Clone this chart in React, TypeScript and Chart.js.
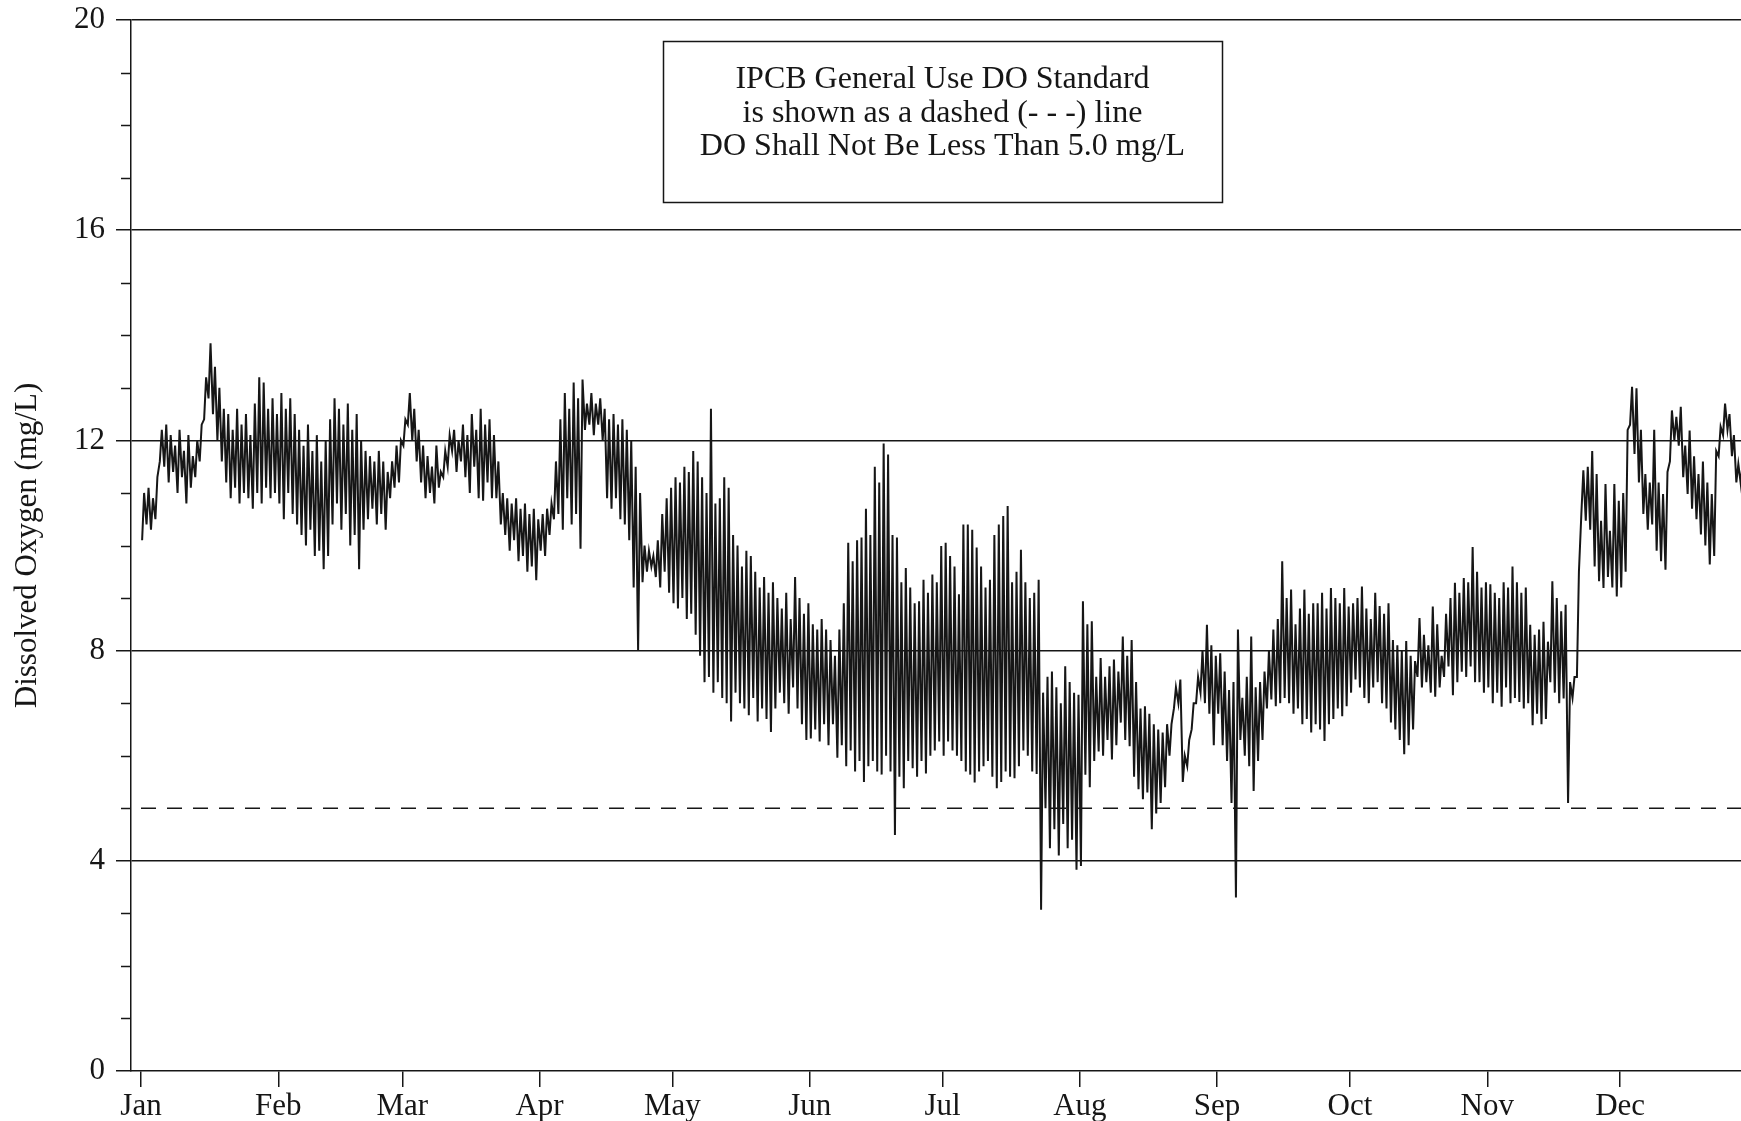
import React, { useEffect, useRef } from 'react';
import { Chart, registerables } from 'chart.js';

Chart.register(...registerables);

// ---------- axis / label data ----------
const MONTH_LABELS = ['Jan', 'Feb', 'Mar', 'Apr', 'May', 'Jun', 'Jul', 'Aug', 'Sep', 'Oct', 'Nov', 'Dec'];
const MONTH_START_DAYS = [0, 31, 59, 90, 120, 151, 181, 212, 243, 273, 304, 334];
const Y_MAJOR_STEP = 4;
const Y_MIN = 0;
const Y_MAX = 20;
const Y_TITLE = 'Dissolved Oxygen (mg/L)';
const DO_STANDARD = 5.0;
const NOTE_LINES = [
  'IPCB General Use DO Standard',
  'is shown as a dashed (- - -) line',
  'DO Shall Not Be Less Than 5.0 mg/L',
];

// ---------- daily dissolved oxygen (mg/L): daily low and daily high ----------
const janLow = [10.1, 10.4, 10.3, 10.5, 11.6, 11.5, 11.2, 11.4, 11.0, 11.3, 10.8, 11.1, 11.3, 11.6, 12.4, 12.8, 12.5, 12.0, 11.6, 11.2, 10.9, 11.1, 10.8, 11.0, 10.9, 10.7, 11.0, 10.8, 11.1, 10.9, 11.0];
const janHigh = [11.0, 11.1, 10.9, 11.3, 12.2, 12.3, 12.1, 11.9, 12.2, 11.8, 12.1, 11.7, 12.0, 12.3, 13.2, 13.85, 13.4, 13.0, 12.6, 12.5, 12.2, 12.6, 12.3, 12.5, 12.1, 12.7, 13.2, 13.1, 12.6, 12.8, 12.5];
const febLow = [10.8, 10.5, 11.0, 10.6, 10.4, 10.2, 10.0, 10.3, 9.8, 9.9, 9.55, 9.8, 10.4, 10.8, 10.3, 10.6, 10.0, 10.2, 9.55, 10.3, 10.5, 10.7, 10.4, 10.6, 10.3, 10.9, 11.1, 11.2];
const febHigh = [12.9, 12.6, 12.8, 12.5, 12.2, 11.9, 12.3, 11.8, 12.1, 11.6, 12.0, 12.4, 12.8, 12.6, 12.3, 12.7, 12.2, 12.5, 12.0, 11.8, 11.7, 11.6, 11.8, 11.6, 11.4, 11.6, 11.9, 12.0];
const marLow = [11.9, 12.3, 12.0, 11.6, 11.2, 10.9, 11.0, 10.8, 11.1, 11.3, 11.5, 11.8, 11.4, 11.6, 11.3, 11.0, 11.5, 10.9, 10.85, 11.2, 10.9, 10.9, 10.4, 10.2, 9.9, 10.1, 9.7, 9.8, 9.5, 9.6, 9.34];
const marHigh = [12.4, 12.9, 12.6, 12.2, 11.9, 11.7, 11.5, 11.9, 11.4, 11.8, 12.1, 12.2, 12.0, 12.3, 12.1, 12.5, 12.2, 12.6, 12.3, 12.4, 12.1, 11.6, 11.0, 10.9, 10.8, 10.9, 10.7, 10.8, 10.6, 10.7, 10.5];
const aprLow = [9.9, 9.8, 10.2, 10.5, 10.6, 10.3, 10.9, 10.4, 10.6, 9.94, 12.2, 12.3, 12.1, 12.3, 12.0, 10.9, 10.7, 10.9, 10.5, 10.4, 10.1, 9.2, 8.0, 9.3, 9.5, 9.6, 9.4, 9.2, 9.5, 9.1];
const aprHigh = [10.6, 10.7, 10.8, 11.6, 12.4, 12.9, 12.6, 13.1, 12.8, 13.16, 12.7, 12.9, 12.7, 12.8, 12.6, 12.4, 12.5, 12.3, 12.4, 12.2, 12.0, 11.5, 11.0, 10.0, 9.9, 9.8, 10.1, 10.6, 10.9, 11.1];
const mayLow = [8.9, 8.8, 9.0, 8.6, 8.7, 8.3, 7.9, 7.4, 7.5, 7.2, 7.4, 7.1, 7.0, 6.65, 7.2, 7.0, 6.9, 6.77, 7.1, 6.65, 6.9, 6.7, 6.45, 6.9, 7.2, 7.0, 6.8, 7.3, 6.9, 6.6, 6.3];
const mayHigh = [11.3, 11.2, 11.5, 11.4, 11.8, 11.6, 11.3, 11.0, 12.6, 10.8, 10.9, 11.3, 11.1, 10.2, 10.0, 9.6, 9.9, 9.8, 9.5, 9.2, 9.4, 9.1, 9.3, 9.0, 8.8, 9.1, 8.6, 9.4, 9.0, 8.7, 8.9];
const junLow = [6.33, 6.5, 6.27, 6.6, 6.2, 6.6, 5.96, 6.2, 5.8, 6.1, 5.7, 5.9, 5.5, 5.8, 5.9, 5.7, 5.64, 6.0, 5.7, 4.49, 5.6, 5.38, 5.9, 5.76, 5.6, 5.9, 5.66, 6.0, 6.1, 6.27];
const junHigh = [8.5, 8.4, 8.6, 8.4, 8.2, 7.9, 8.4, 8.9, 10.05, 9.7, 10.1, 10.15, 10.7, 10.2, 11.5, 11.2, 11.94, 11.73, 10.2, 10.15, 9.3, 9.57, 9.2, 8.9, 8.94, 9.35, 9.1, 9.45, 9.3, 9.99];
const julLow = [6.0, 6.27, 6.1, 6.0, 5.9, 5.7, 5.64, 5.49, 5.7, 5.8, 5.9, 5.6, 5.38, 5.5, 5.7, 5.6, 5.57, 5.8, 6.1, 6.0, 5.7, 5.65, 3.07, 5.0, 4.24, 4.6, 4.1, 4.7, 4.24, 4.4, 3.83];
const julHigh = [10.05, 9.8, 9.6, 9.07, 10.4, 10.4, 10.3, 9.96, 9.6, 9.2, 9.35, 10.2, 10.4, 10.56, 10.75, 9.3, 9.5, 9.92, 9.3, 9.0, 9.1, 9.35, 7.2, 7.5, 7.6, 7.3, 7.0, 7.7, 7.4, 7.2, 7.16];
const augLow = [3.9, 5.64, 5.4, 5.9, 6.08, 6.0, 6.3, 5.93, 6.2, 6.63, 6.3, 6.18, 5.6, 5.36, 5.17, 5.3, 4.6, 4.9, 5.1, 5.4, 6.0, 6.9, 7.0, 5.5, 5.8, 6.5, 7.0, 7.2, 7.0, 6.8, 6.2];
const augHigh = [8.94, 8.5, 8.56, 7.5, 7.86, 7.5, 7.7, 7.83, 7.6, 8.27, 7.9, 8.2, 7.4, 6.9, 6.94, 6.8, 6.6, 6.5, 6.44, 6.6, 6.6, 7.3, 7.45, 6.0, 6.3, 7.0, 7.5, 8.0, 8.49, 8.1, 7.9];
const sepLow = [6.8, 6.2, 5.9, 5.1, 3.3, 6.3, 6.0, 5.8, 5.33, 5.9, 6.3, 6.9, 7.07, 6.94, 7.0, 7.1, 7.0, 6.8, 6.9, 6.6, 6.7, 6.44, 6.6, 6.5, 6.28, 6.6, 6.7, 6.9, 6.75, 6.94];
const sepHigh = [7.95, 7.6, 7.25, 7.4, 8.4, 7.1, 7.5, 8.27, 7.3, 7.4, 7.6, 8.0, 8.4, 8.6, 9.7, 9.0, 9.16, 8.5, 8.8, 9.16, 8.7, 8.9, 8.9, 9.1, 8.8, 9.19, 9.0, 8.9, 9.19, 8.84];
const octLow = [7.2, 7.45, 7.3, 7.1, 7.0, 7.3, 7.4, 7.0, 6.9, 6.63, 6.5, 6.3, 6.03, 6.2, 6.5, 7.5, 7.3, 7.4, 7.2, 7.12, 7.3, 7.5, 7.7, 7.15, 7.4, 7.6, 7.5, 7.7, 7.4, 7.4, 7.2];
const octHigh = [8.9, 9.0, 9.22, 8.8, 8.6, 9.1, 8.85, 8.7, 8.9, 8.2, 8.1, 8.0, 8.18, 7.9, 7.8, 8.62, 8.3, 8.1, 8.84, 8.5, 7.9, 8.7, 9.0, 9.29, 9.1, 9.38, 9.3, 9.97, 9.5, 9.2, 9.3];
const novLow = [7.3, 7.0, 7.2, 6.93, 7.3, 7.0, 7.1, 7.02, 6.9, 7.0, 6.58, 6.8, 6.6, 6.7, 7.4, 7.2, 7.0, 7.09, 5.1, 7.1, 7.5, 10.6, 10.47, 10.3, 9.6, 9.32, 9.19, 9.4, 9.2, 9.03];
const novHigh = [9.26, 9.1, 9.0, 9.3, 9.2, 9.6, 9.3, 9.1, 9.2, 8.49, 8.3, 8.4, 8.55, 8.17, 9.32, 9.0, 8.75, 8.87, 7.4, 7.5, 9.5, 11.43, 11.5, 11.8, 11.36, 10.47, 11.17, 10.28, 11.17, 10.85];
const decLow = [9.2, 9.5, 12.3, 11.74, 11.2, 10.6, 10.3, 10.4, 9.9, 9.7, 9.54, 11.6, 12.0, 11.9, 11.3, 10.98, 10.7, 10.5, 10.21, 10.0, 9.64, 9.8, 11.7, 12.1, 12.2, 11.7, 11.2, 11.17, 11.0, 11.1, 11.0];
const decHigh = [11.0, 12.2, 13.02, 12.99, 12.2, 11.36, 11.2, 12.2, 11.2, 10.98, 11.4, 12.57, 12.45, 12.64, 11.9, 12.19, 11.7, 11.36, 11.6, 11.2, 10.98, 11.8, 12.26, 12.7, 12.5, 12.1, 11.55, 11.6, 11.4, 11.5, 11.3];

const MONTH_LOWS = [janLow, febLow, marLow, aprLow, mayLow, junLow, julLow, augLow, sepLow, octLow, novLow, decLow];
const MONTH_HIGHS = [janHigh, febHigh, marHigh, aprHigh, mayHigh, junHigh, julHigh, augHigh, sepHigh, octHigh, novHigh, decHigh];

const FONT = '"Liberation Serif", "Times New Roman", serif';
const INK = '#161616';

function buildSeries() {
  const pts: { x: number; y: number }[] = [];
  MONTH_LOWS.forEach((lows, m) => {
    const highs = MONTH_HIGHS[m];
    lows.forEach((lo, i) => {
      const day = MONTH_START_DAYS[m] + i;
      pts.push({ x: day + 0.25, y: lo });
      pts.push({ x: day + 0.7, y: highs[i] });
    });
  });
  return pts;
}

const decorPlugin = {
  id: 'decor',
  afterDraw(chart: any) {
    const { ctx, chartArea, scales } = chart;
    const ys = scales.y;
    ctx.save();
    ctx.strokeStyle = INK;
    ctx.lineWidth = 1.5;
    for (let v = Y_MIN; v <= Y_MAX; v++) {
      if (v % Y_MAJOR_STEP === 0) continue;
      const py = Math.round(ys.getPixelForValue(v)) + 0.5;
      ctx.beginPath();
      ctx.moveTo(chartArea.left - 10, py);
      ctx.lineTo(chartArea.left, py);
      ctx.stroke();
    }
    // note box
    const bx = 663, by = 41, bw = 559, bh = 161;
    ctx.strokeRect(bx + 0.5, by + 0.5, bw, bh);
    ctx.fillStyle = INK;
    ctx.font = `32px ${FONT}`;
    ctx.textAlign = 'center';
    ctx.textBaseline = 'middle';
    NOTE_LINES.forEach((t, i) => ctx.fillText(t, bx + bw / 2, 80 + i * 33.3));
    ctx.restore();
  },
};

export default function App() {
  const ref = useRef<HTMLCanvasElement | null>(null);
  useEffect(() => {
    if (!ref.current) return;
    const series = buildSeries();
    const chart = new Chart(ref.current, {
      type: 'line',
      data: {
        datasets: [
          {
            label: 'DO',
            data: series,
            borderColor: INK,
            borderWidth: 2,
            pointRadius: 0,
            tension: 0,
          },
          {
            label: 'Standard',
            data: [
              { x: MONTH_START_DAYS[0], y: DO_STANDARD },
              { x: 366, y: DO_STANDARD },
            ],
            borderColor: INK,
            borderWidth: 1.5,
            borderDash: [15, 11],
            pointRadius: 0,
          },
        ],
      },
      options: {
        animation: false,
        responsive: false,
        devicePixelRatio: 1,
        layout: { padding: { left: 0, top: 20, right: 0, bottom: 0 } },
        plugins: { legend: { display: false }, tooltip: { enabled: false } },
        scales: {
          x: {
            type: 'linear',
            min: -2.26,
            max: 361.3,
            afterBuildTicks: (scale: any) => {
              scale.ticks = MONTH_START_DAYS.map((v) => ({ value: v }));
            },
            afterFit: (scale: any) => {
              scale.height = 50;
              scale.paddingLeft = 0;
              scale.paddingRight = 0;
            },
            ticks: {
              autoSkip: false,
              maxRotation: 0,
              padding: 1,
              color: INK,
              font: { family: FONT, size: 31 },
              callback: (value: any) => {
                const idx = MONTH_START_DAYS.indexOf(Number(value));
                return idx >= 0 ? MONTH_LABELS[idx] : '';
              },
            },
            grid: {
              drawOnChartArea: false,
              tickLength: 16,
              tickColor: INK,
              lineWidth: 1.5,
            },
            border: { color: INK, width: 1.5 },
          },
          y: {
            type: 'linear',
            min: Y_MIN,
            max: Y_MAX,
            afterFit: (scale: any) => {
              scale.width = 131;
              scale.paddingTop = 0;
              scale.paddingBottom = 0;
            },
            ticks: {
              stepSize: 1,
              autoSkip: false,
              padding: 11,
              color: INK,
              font: { family: FONT, size: 31 },
              callback: (value: any) => (Number(value) % Y_MAJOR_STEP === 0 ? String(value) : ''),
            },
            grid: {
              tickLength: 15,
              lineWidth: 1.5,
              color: (c: any) =>
                c.tick && c.tick.value % Y_MAJOR_STEP === 0 && c.tick.value !== Y_MIN ? INK : 'rgba(0,0,0,0)',
              tickColor: (c: any) => (c.tick && c.tick.value % Y_MAJOR_STEP === 0 ? INK : 'rgba(0,0,0,0)'),
            },
            border: { color: INK, width: 1.5 },
            title: {
              display: true,
              text: Y_TITLE,
              color: INK,
              font: { family: FONT, size: 31 },
              padding: { top: 9, bottom: 0 },
            },
          },
        },
      },
      plugins: [decorPlugin],
    } as any);
    return () => chart.destroy();
  }, []);

  return (
    <div style={{ position: 'absolute', left: 0, top: 0, width: 1741, height: 1121, background: '#fff', overflow: 'hidden' }}>
      <canvas ref={ref} width={1741} height={1121} style={{ width: 1741, height: 1121, display: 'block' }} />
    </div>
  );
}
